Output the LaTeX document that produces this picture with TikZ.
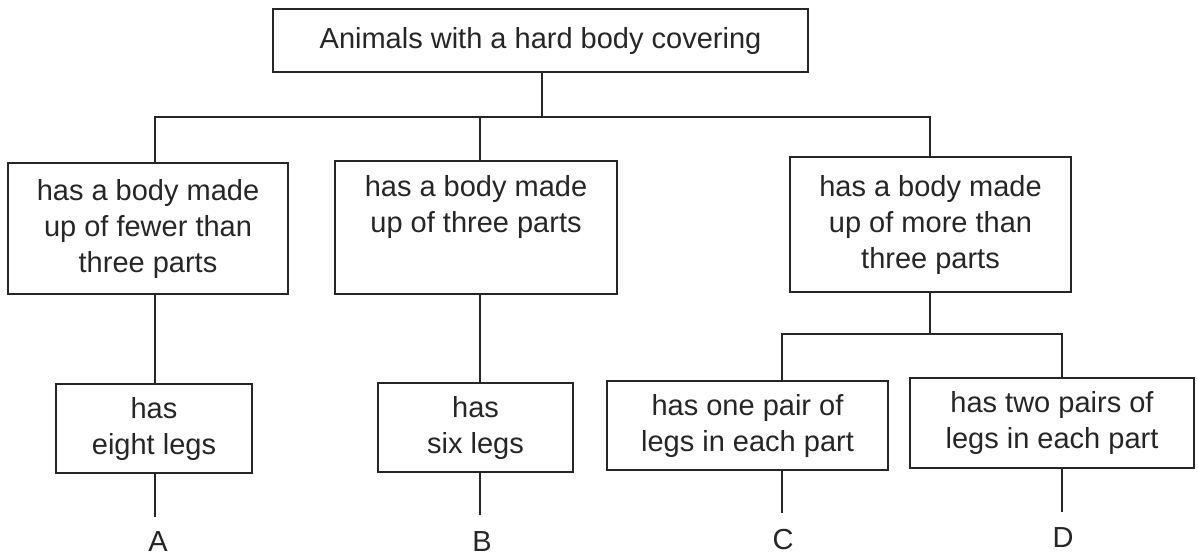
\documentclass[tikz,border=0pt]{standalone}
\usepackage{fontspec}
\setmainfont{Liberation Sans}
\begin{document}
\begin{tikzpicture}[x=1pt,y=-1pt,
  box/.style={draw=black!85,line width=1.4pt,rectangle,inner sep=0pt,align=center,
    font=\fontsize{29}{36}\selectfont,text=black!85},
  conn/.style={draw=black!85,line width=1.4pt},
  lbl/.style={inner sep=0pt,font=\fontsize{29}{36}\selectfont,text=black!85}]
\useasboundingbox (0,0) rectangle (1198,558);
\fill[white] (0,0) rectangle (1198,558);
% boxes
\node[box,minimum width=535,minimum height=63] (top) at (540.5,40.5) {Animals with a hard body covering};
\node[box,minimum width=280,minimum height=131] (b1) at (148,228.5) {has a body made\\up of fewer than\\three parts};
\node[box,minimum width=282,minimum height=133] (b2) at (476,227.5) {has a body made\\up of three parts\\\strut};
\node[box,minimum width=281,minimum height=135] (b3) at (930.5,224.5) {has a body made\\up of more than\\three parts};
\node[box,minimum width=196,minimum height=89] (eight) at (154,428.5) {has\\eight legs};
\node[box,minimum width=195,minimum height=89] (six) at (475.5,427.5) {has\\six legs};
\node[box,minimum width=281,minimum height=89] (cbox) at (747.5,425.5) {has one pair of\\legs in each part};
\node[box,minimum width=284,minimum height=90] (dbox) at (1052,423) {has two pairs of\\legs in each part};
% labels
\node[lbl] (lA) at (158,542) {A};
\node[lbl] (lB) at (482,542) {B};
\node[lbl] (lC) at (783,540) {C};
\node[lbl] (lD) at (1063,538) {D};
% connector guides
\coordinate (cA) at (155,0);
\coordinate (cB) at (480,0);
\coordinate (cT) at (542,0);
\coordinate (cC) at (930,0);
\coordinate (cCL) at (782,0);
\coordinate (cD) at (1062,0);
\coordinate (bar1) at (0,117);
\coordinate (bar2) at (0,334);
\coordinate (eA) at (155,517);
\coordinate (eB) at (480,515);
\coordinate (eC) at (782,513);
\coordinate (eD) at (1062,512);
% connectors
\draw[conn] (top.south -| cT) -- (bar1 -| cT);
\draw[conn] (b1.north -| cA) |- (bar1 -| cC) -- (b3.north -| cC);
\draw[conn] (b2.north -| cB) -- (bar1 -| cB);
\draw[conn] (b1.south -| cA) -- (eight.north -| cA);
\draw[conn] (b2.south -| cB) -- (six.north -| cB);
\draw[conn] (b3.south -| cC) -- (bar2 -| cC);
\draw[conn] (cbox.north -| cCL) |- (bar2 -| cD) -- (dbox.north -| cD);
\draw[conn] (eight.south -| eA) -- (eA);
\draw[conn] (six.south -| eB) -- (eB);
\draw[conn] (cbox.south -| eC) -- (eC);
\draw[conn] (dbox.south -| eD) -- (eD);
\end{tikzpicture}
\end{document}
